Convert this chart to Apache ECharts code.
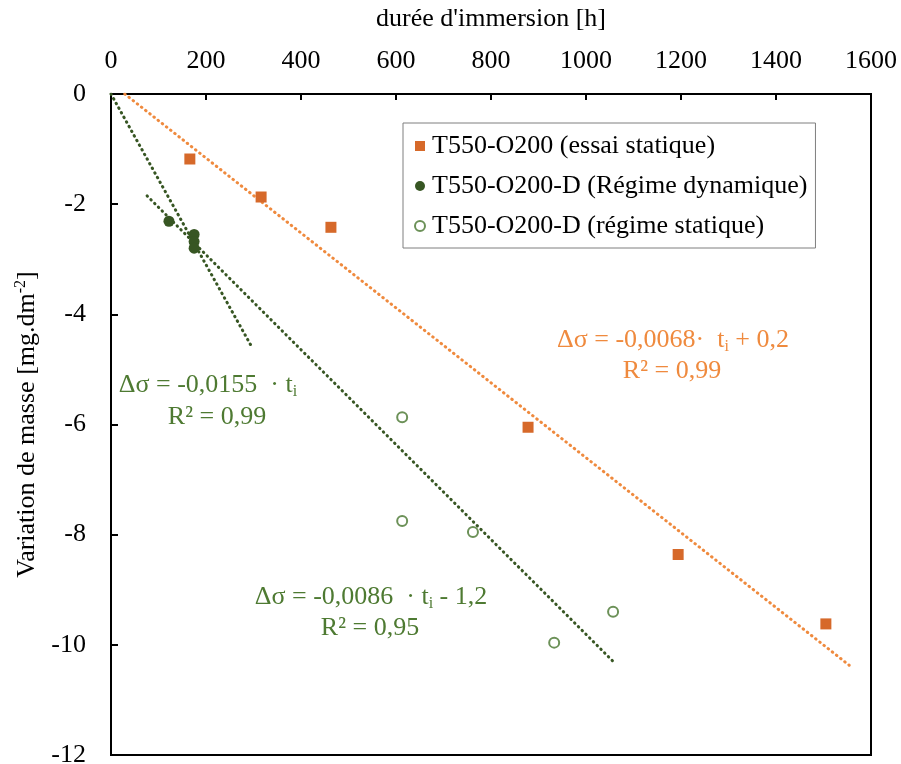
<!DOCTYPE html>
<html>
<head>
<meta charset="utf-8">
<script src="https://cdn.jsdelivr.net/npm/echarts@6/dist/echarts.min.js"></script>
<style>html,body{margin:0;padding:0;background:#fff}#c{width:901px;height:764px}</style>
</head>
<body>
<div id="c"></div>
<script>
// ---- data ----
const seriesNames = ['T550-O200 (essai statique)', 'T550-O200-D (Régime dynamique)', 'T550-O200-D (régime statique)'];
const squareX = [166, 316, 463, 878, 1194, 1505];
const squareY = [-1.18, -1.87, -2.42, -6.05, -8.36, -9.62];
const dynX = [122, 175, 175, 175];
const dynY = [-2.31, -2.55, -2.68, -2.8];
const statX = [613, 613, 762, 933, 1057];
const statY = [-5.87, -7.75, -7.95, -9.96, -9.4];
// trend line end points
const trendOrangeX = [29, 1554];
const trendOrangeY = [0, -10.37];
const trendDynX = [0, 295];
const trendDynY = [0, -4.57];
const trendStatX = [76, 1057];
const trendStatY = [-1.85, -10.3];
const xTicks = [0, 1600, 200];
const yTicks = [-12, 0, 2];

const zip = (a, b) => a.map((v, i) => [v, b[i]]);
const FONT = '"Liberation Serif", "Times New Roman", serif';
const FS = 26;
const ORANGE_M = '#D6692A', ORANGE_L = '#EF8A3E', GREEN_D = '#375623', GREEN_T = '#4E7A32', GREEN_O = '#6C9158';
const dotted = (c) => ({color: c, width: 3, type: [0.5, 4.8], cap: 'round'});

const chart = echarts.init(document.getElementById('c'), null, {renderer: 'canvas'});
const eqRich = (col) => ({
  n: {fontSize: FS, fontFamily: FONT, color: col, lineHeight: 30},
  s: {fontSize: 16, fontFamily: FONT, color: col, lineHeight: 16, verticalAlign: 'bottom'}
});
const txt = (x, y, text, col) => ({
  type: 'text', x: x, y: y, z: 100,
  style: {text: text, rich: eqRich(col), textAlign: 'center', textVerticalAlign: 'middle', font: FS + 'px ' + FONT, fill: col}
});

chart.setOption({
  animation: false,
  backgroundColor: '#fff',
  grid: {left: 111, top: 94, right: 30, bottom: 9, outerBoundsMode: 'none', containLabel: false,
    show: true, borderColor: '#000', borderWidth: 2, backgroundColor: 'transparent'},
  xAxis: {
    type: 'value', position: 'top', min: xTicks[0], max: xTicks[1], interval: xTicks[2],
    name: "durée d'immersion [h]", nameLocation: 'middle', nameGap: 62,
    nameTextStyle: {fontSize: FS, fontFamily: FONT, color: '#000'},
    axisLine: {show: true, onZero: false, lineStyle: {color: '#000', width: 2}},
    axisTick: {show: true, inside: true, length: 6, lineStyle: {color: '#000', width: 2}},
    axisLabel: {fontSize: FS, fontFamily: FONT, color: '#000', margin: 20, formatter: v => String(v)},
    splitLine: {show: false}
  },
  yAxis: {
    type: 'value', min: yTicks[0], max: yTicks[1], interval: yTicks[2],
    name: '{a|Variation de masse [mg.dm}{p|-2}{a|]}', nameLocation: 'middle', nameGap: 68,
    nameTextStyle: {fontSize: FS, fontFamily: FONT, color: '#000', rich: {
      a: {fontSize: FS, fontFamily: FONT, color: '#000', lineHeight: 30},
      p: {fontSize: 16, fontFamily: FONT, color: '#000', lineHeight: 16, verticalAlign: 'top'}
    }},
    axisLine: {show: true, onZero: false, lineStyle: {color: '#000', width: 2}},
    axisTick: {show: true, inside: true, length: 7, lineStyle: {color: '#000', width: 2}},
    axisLabel: {fontSize: FS, fontFamily: FONT, color: '#000', margin: 25, formatter: v => String(v)},
    splitLine: {show: false}
  },
  legend: {
    data: seriesNames, orient: 'vertical', left: 403, top: 123,
    padding: [8, 8, 7, 11], itemGap: 10, itemWidth: 10, itemHeight: 10,
    borderColor: '#7f7f7f', borderWidth: 1, backgroundColor: '#fff',
    textStyle: {fontSize: FS, fontFamily: FONT, color: '#000', lineHeight: 30, padding: [0, 0, 0, 2]}
  },
  series: [
    {name: 'trendO', type: 'line', data: zip(trendOrangeX, trendOrangeY), symbol: 'none', lineStyle: dotted(ORANGE_L), z: 2},
    {name: 'trendD', type: 'line', data: zip(trendDynX, trendDynY), symbol: 'none', lineStyle: dotted(GREEN_D), z: 2},
    {name: 'trendS', type: 'line', data: zip(trendStatX, trendStatY), symbol: 'none', lineStyle: dotted(GREEN_D), z: 2},
    {name: seriesNames[0], type: 'scatter', data: zip(squareX, squareY), symbol: 'rect', symbolSize: 11,
      itemStyle: {color: ORANGE_M, opacity: 1}, z: 5},
    {name: seriesNames[1], type: 'scatter', data: zip(dynX, dynY), symbol: 'circle', symbolSize: 11,
      itemStyle: {color: GREEN_D, opacity: 1}, z: 5},
    {name: seriesNames[2], type: 'scatter', data: zip(statX, statY), symbol: 'emptyCircle', symbolSize: 10,
      itemStyle: {color: GREEN_O, borderColor: GREEN_O, borderWidth: 1.5, opacity: 1}, z: 5}
  ],
  graphic: [
    txt(673, 340, '{n|Δσ = -0,0068·  t}{s|i}{n| + 0,2}', ORANGE_L),
    txt(672, 371, '{n|R² = 0,99}', ORANGE_L),
    txt(208, 385, '{n|Δσ = -0,0155  · t}{s|i}', GREEN_T),
    txt(217, 417, '{n|R² = 0,99}', GREEN_T),
    txt(371, 597, '{n|Δσ = -0,0086  · t}{s|i}{n| - 1,2}', GREEN_T),
    txt(370, 628, '{n|R² = 0,95}', GREEN_T)
  ]
});
</script>
</body>
</html>
